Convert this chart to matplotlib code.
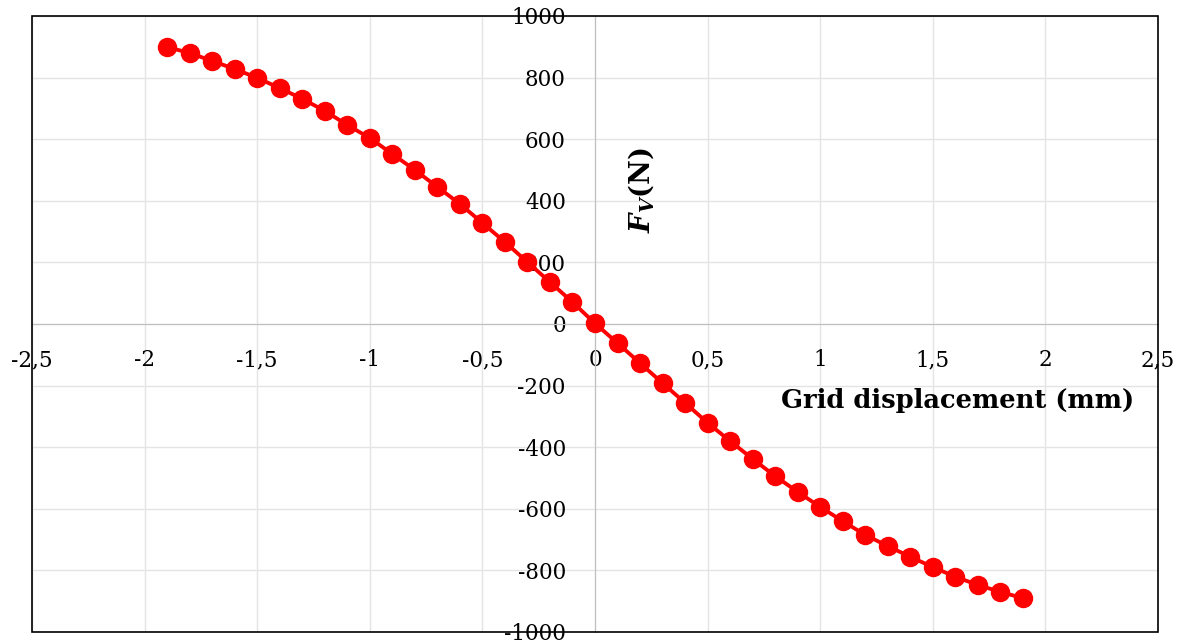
import matplotlib
matplotlib.use("Agg")
import matplotlib.pyplot as plt
import matplotlib.patches as mpatches
from matplotlib.ticker import FuncFormatter, MultipleLocator
import numpy as np

# grid displacement (mm) and vertical force (N)
displacement = [-1.9, -1.8, -1.7, -1.6, -1.5, -1.4, -1.3, -1.2, -1.1, -1.0,
                -0.9, -0.8, -0.7, -0.6, -0.5, -0.4, -0.3, -0.2, -0.1, 0.0,
                0.1, 0.2, 0.3, 0.4, 0.5, 0.6, 0.7, 0.8, 0.9, 1.0,
                1.1, 1.2, 1.3, 1.4, 1.5, 1.6, 1.7, 1.8, 1.9]
force = [899, 880, 854, 828, 799, 766, 731, 692, 646, 604,
         552, 500, 445, 390, 328, 266, 201, 136, 71, 2,
         -62, -127, -192, -256, -321, -380, -438, -494, -545, -594,
         -640, -685, -721, -756, -789, -821, -847, -870, -890]

plt.rcParams['font.family'] = ['DejaVu Serif']
plt.rcParams['mathtext.fontset'] = 'dejavuserif'

fig = plt.figure(figsize=(11.85, 6.41), dpi=100)
ax = fig.add_axes([32 / 1185, 9 / 641, 1126 / 1185, 616 / 641])

ax.set_xlim(-2.5, 2.5)
ax.set_ylim(-1000, 1000)
ax.xaxis.set_major_locator(MultipleLocator(0.5))
ax.yaxis.set_major_locator(MultipleLocator(200))
ax.grid(True, color='#e4e4e4', linewidth=1.0)
ax.set_axisbelow(True)

def comma_fmt(v, pos):
    s = f'{v:g}'
    return s.replace('.', ',')

ax.xaxis.set_major_formatter(FuncFormatter(comma_fmt))
ax.yaxis.set_major_formatter(FuncFormatter(lambda v, p: f'{v:.0f}'))

# axis lines through the origin
ax.spines['left'].set_position('zero')
ax.spines['bottom'].set_position('zero')
ax.spines['left'].set_color('#bfbfbf')
ax.spines['bottom'].set_color('#bfbfbf')
ax.spines['top'].set_visible(False)
ax.spines['right'].set_visible(False)
frame = mpatches.Rectangle((0, 0), 1, 1, transform=ax.transAxes, fill=False,
                           edgecolor='black', linewidth=1.2, clip_on=False, zorder=5)
ax.add_patch(frame)

ax.tick_params(axis='both', length=0, labelsize=15.5)
ax.tick_params(axis='y', pad=21)
ax.tick_params(axis='x', pad=18)

ax.plot(displacement, force, color='#ff0000', linewidth=2.8, marker='o',
        markersize=13, markerfacecolor='#ff0000', markeredgecolor='#ff0000',
        zorder=3, clip_on=False)

ax.text(1.61, -248, 'Grid displacement (mm)', fontsize=18.5, fontweight='bold',
        ha='center', va='center')
ax.text(0.205, 435, r'$\mathbfit{F}_{\mathbfit{V}}$(N)', fontsize=19.5, fontweight='bold',
        rotation=90, ha='center', va='center')

fig.savefig('out.png', dpi=100)
